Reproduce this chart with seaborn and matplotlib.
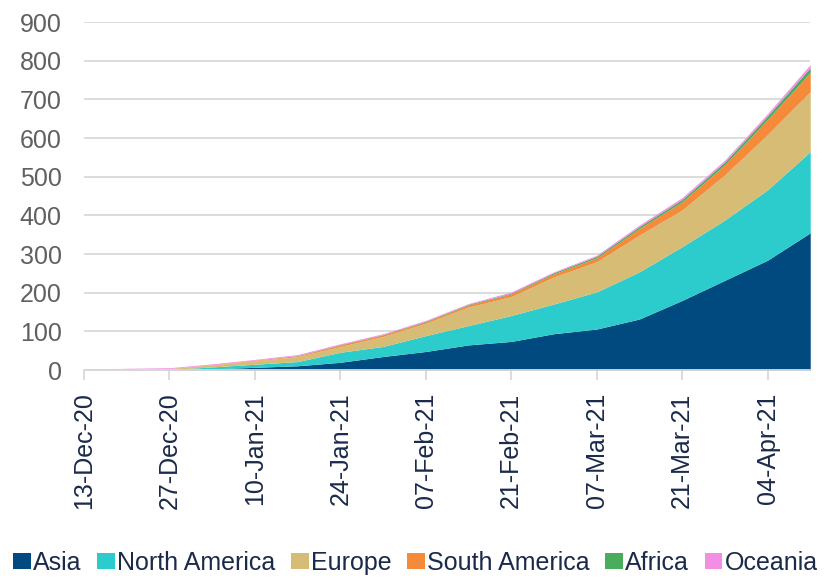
import numpy as np
import pandas as pd
import matplotlib
matplotlib.use('Agg')
import matplotlib.pyplot as plt
import matplotlib.dates as mdates
from matplotlib.patches import Patch
import seaborn as sns

# weekly readings, one layer per continent
dates = pd.date_range('2020-12-13', '2021-04-11', freq='7D')
asia = [0, 0, 0.5, 3, 7, 11, 20, 35, 48, 65, 74, 94, 106, 132, 180, 232, 284, 355]
north_america = [0, 0.5, 1, 5, 8, 11, 26, 26, 41, 50, 67, 77, 96, 122, 139, 156, 182, 210]
europe = [0.5, 1, 2, 5, 9, 13, 15, 26, 32, 48, 49, 70, 78, 95, 95, 117, 143, 155]
south_america = [0, 0, 0.5, 1, 1.5, 2, 4, 4, 4, 5, 7, 8, 10, 17, 21, 26, 39, 50]
africa = [0, 0, 0, 0, 0, 0.5, 1, 1, 1.5, 2, 2, 3, 4, 5, 6, 7, 9, 12]
oceania = [2, 3, 2, 2, 2, 2.5, 2, 2, 2, 2, 3, 2, 3, 4, 5, 5, 6, 8]

labels = ['Asia', 'North America', 'Europe', 'South America', 'Africa', 'Oceania']
colors = ['#004a80', '#2dcccc', '#d6bc74', '#f58a3a', '#4aad5e', '#f38ee4']
yticks = list(range(0, 901, 100))
xticks = pd.date_range('2020-12-13', '2021-04-11', freq='14D')

sns.set_theme(style='white')
plt.rcParams['font.family'] = ['Liberation Sans', 'DejaVu Sans']

fig = plt.figure(figsize=(8.31, 5.8), dpi=100)
ax = fig.add_axes([0.101, 0.362, 0.874, 0.600])

ax.stackplot(dates, asia, north_america, europe, south_america, africa, oceania,
             colors=colors, labels=labels, linewidth=0, zorder=3)

ax.set_ylim(0, 900)
ax.set_yticks(yticks)
ax.set_xlim(dates[0], dates[-1])
ax.set_xticks(xticks)
ax.xaxis.set_major_formatter(mdates.DateFormatter('%d-%b-%y'))

ax.yaxis.grid(True, color='#d9d9d9', linewidth=1.3, zorder=0)
ax.xaxis.grid(False)
for side in ['left', 'right', 'top']:
    ax.spines[side].set_visible(False)
ax.spines['bottom'].set_color('#d9d9d9')
ax.spines['bottom'].set_linewidth(1.3)
ax.spines['bottom'].set_zorder(4)

ax.tick_params(axis='y', labelsize=18, labelcolor='#606060', length=0, pad=16)
ax.tick_params(axis='x', labelsize=18, labelcolor='#1b2a4a', bottom=True,
               direction='out', length=7, width=1.3, color='#d9d9d9', pad=9,
               labelrotation=90)

handles = [Patch(facecolor=c, edgecolor='none') for c in colors]
fig.legend(handles, labels, loc='lower center', bbox_to_anchor=(0.5, -0.008),
           ncol=6, frameon=False, fontsize=18, labelcolor='#1b2a4a',
           handlelength=0.7, handleheight=0.6, handletextpad=0.1,
           columnspacing=0.62, borderaxespad=0)

fig.savefig('out.png', dpi=100)
